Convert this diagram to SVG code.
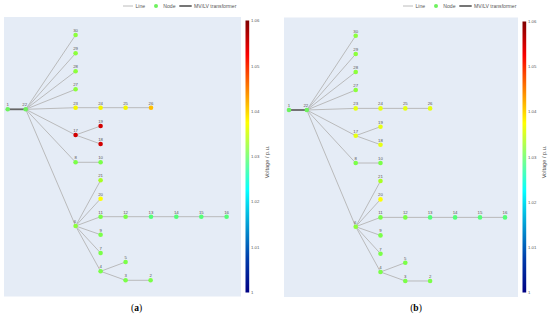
<svg xmlns="http://www.w3.org/2000/svg" width="550" height="318" viewBox="0 0 550 318">
<defs>
<linearGradient id="jet" x1="0" y1="0" x2="0" y2="1">
<stop offset="0" stop-color="#800000"/>
<stop offset="0.125" stop-color="#fa0000"/>
<stop offset="0.375" stop-color="#ffff00"/>
<stop offset="0.625" stop-color="#05ffff"/>
<stop offset="0.875" stop-color="#003caa"/>
<stop offset="1" stop-color="#000083"/>
</linearGradient>
</defs>
<style>
.bg{fill:#e5ecf6}
.ln{stroke:#b4b4b4;stroke-width:0.9;fill:none}
.tr{stroke:#666;stroke-width:1.8;fill:none}
.nd{stroke:none}
.lb{font-family:"Liberation Sans",Arial,sans-serif;font-size:4.3px;fill:#555;text-anchor:middle}
.tk{font-family:"Liberation Sans",Arial,sans-serif;font-size:4.3px;fill:#555}
.lg{font-family:"Liberation Sans",Arial,sans-serif;font-size:5.1px;fill:#555}
.ax{font-family:"Liberation Sans",Arial,sans-serif;font-size:5.6px;fill:#555;text-anchor:middle}
.cap{font-family:"Liberation Serif","Times New Roman",serif;font-size:9.5px;fill:#000;text-anchor:middle}
.cb{font-weight:bold}
.g1{fill:#6ef25e}.lm{fill:#8cff3c}.lm2{fill:#7aff48}.cg{fill:#55ff78}.ye{fill:#f5f500}.ye2{fill:#ffff00}.or{fill:#ffbe00}.rd{fill:#d20000}.yl{fill:#e6ff12}.yg{fill:#a8ff22}
</style>
<rect width="550" height="318" fill="#ffffff"/>
<!-- legends -->
<g id="legend-a">
<line x1="123" y1="6" x2="133" y2="6" class="ln"/>
<text x="135.5" y="7.8" class="lg">Line</text>
<circle cx="156" cy="6" r="2" fill="#6ef25e"/>
<text x="163.3" y="7.8" class="lg">Node</text>
<line x1="179.3" y1="6" x2="191.7" y2="6" class="tr" stroke-width="1.2"/>
<text x="194" y="7.8" class="lg">MV/LV transformer</text>
</g>
<g id="legend-b">
<line x1="403" y1="6" x2="413" y2="6" class="ln"/>
<text x="415.5" y="7.8" class="lg">Line</text>
<circle cx="436" cy="6" r="2" fill="#6ef25e"/>
<text x="443.3" y="7.8" class="lg">Node</text>
<line x1="459.3" y1="6" x2="471.7" y2="6" class="tr" stroke-width="1.2"/>
<text x="474" y="7.8" class="lg">MV/LV transformer</text>
</g>
<!-- panel backgrounds -->
<rect class="bg" x="4" y="17" width="237" height="279.5"/>
<rect class="bg" x="284" y="17.5" width="234" height="279.5"/>
<!-- colorbars -->
<g id="colorbar-a">
<rect x="245.5" y="20.5" width="3.7" height="272" fill="url(#jet)"/>
<text x="251" y="22.2" class="tk">1.06</text>
<text x="251" y="67.5" class="tk">1.05</text>
<text x="251" y="112.8" class="tk">1.04</text>
<text x="251" y="158.1" class="tk">1.03</text>
<text x="251" y="203.4" class="tk">1.02</text>
<text x="251" y="248.7" class="tk">1.01</text>
<text x="251" y="294" class="tk">1</text>
<text transform="translate(268.5,162) rotate(-90)" class="ax">Voltage / p.u.</text>
</g>
<g id="colorbar-b">
<rect x="522.5" y="21.5" width="3.7" height="271" fill="url(#jet)"/>
<text x="528" y="23" class="tk">1.06</text>
<text x="528" y="68.2" class="tk">1.05</text>
<text x="528" y="113.4" class="tk">1.04</text>
<text x="528" y="158.6" class="tk">1.03</text>
<text x="528" y="203.8" class="tk">1.02</text>
<text x="528" y="249" class="tk">1.01</text>
<text x="528" y="294" class="tk">1</text>
<text transform="translate(545.5,162) rotate(-90)" class="ax">Voltage / p.u.</text>
</g>
<!-- panel a connectors -->
<g id="connectors-a">
<line class="tr" x1="7.7" y1="109.3" x2="25.7" y2="109.3"/>
<path class="ln" d="M25.7 109.3L75.6 35M25.7 109.3L75.6 53.3M25.7 109.3L75.6 71.3M25.7 109.3L75.6 89.3M25.7 109.3L75.6 107.7M25.7 109.3L75.6 135M25.7 109.3L75.6 162.3M25.7 109.3L75.6 226"/>
<path class="ln" d="M75.6 107.7H151M75.6 135L100.6 126M75.6 135L100.6 144M75.6 162.3H100.6"/>
<path class="ln" d="M75.6 226L100.6 180.3M75.6 226L100.6 198.7M75.6 226L100.6 216.7M75.6 226L100.6 234.7M75.6 226L100.6 253M75.6 226L100.6 271.3"/>
<path class="ln" d="M100.6 216.7H226.6M100.6 271.3L125.6 262M100.6 271.3L125.6 280.3H150.6"/>
</g>
<!-- panel a nodes -->
<g id="a-n1"><circle class="nd g1" cx="7.7" cy="109.3" r="2.3"/><text class="lb" x="7.7" y="106.3">1</text></g>
<g id="a-n22"><circle class="nd g1" cx="25.7" cy="109.3" r="2.3"/><text class="lb" x="24.7" y="106.3">22</text></g>
<g id="a-n30"><circle class="nd lm" cx="75.6" cy="35" r="2.3"/><text class="lb" x="75.6" y="32">30</text></g>
<g id="a-n29"><circle class="nd lm" cx="75.6" cy="53.3" r="2.3"/><text class="lb" x="75.6" y="50.3">29</text></g>
<g id="a-n28"><circle class="nd lm" cx="75.6" cy="71.3" r="2.3"/><text class="lb" x="75.6" y="68.3">28</text></g>
<g id="a-n27"><circle class="nd lm" cx="75.6" cy="89.3" r="2.3"/><text class="lb" x="75.6" y="86.3">27</text></g>
<g id="a-n23"><circle class="nd ye" cx="75.6" cy="107.7" r="2.3"/><text class="lb" x="75.6" y="104.7">23</text></g>
<g id="a-n24"><circle class="nd ye" cx="100.6" cy="107.7" r="2.3"/><text class="lb" x="100.6" y="104.7">24</text></g>
<g id="a-n25"><circle class="nd ye" cx="125.6" cy="107.7" r="2.3"/><text class="lb" x="125.6" y="104.7">25</text></g>
<g id="a-n26"><circle class="nd or" cx="151" cy="107.7" r="2.3"/><text class="lb" x="151" y="104.7">26</text></g>
<g id="a-n17"><circle class="nd rd" cx="75.6" cy="135" r="2.3"/><text class="lb" x="75.6" y="132">17</text></g>
<g id="a-n19"><circle class="nd rd" cx="100.6" cy="126" r="2.3"/><text class="lb" x="100.6" y="123">19</text></g>
<g id="a-n18"><circle class="nd rd" cx="100.6" cy="144" r="2.3"/><text class="lb" x="100.6" y="141">18</text></g>
<g id="a-n8"><circle class="nd lm2" cx="75.6" cy="162.3" r="2.3"/><text class="lb" x="75.6" y="159.3">8</text></g>
<g id="a-n10"><circle class="nd lm2" cx="100.6" cy="162.3" r="2.3"/><text class="lb" x="100.6" y="159.3">10</text></g>
<g id="a-n21"><circle class="nd yg" cx="100.6" cy="180.3" r="2.3"/><text class="lb" x="100.6" y="177.3">21</text></g>
<g id="a-n20"><circle class="nd ye2" cx="100.6" cy="198.7" r="2.3"/><text class="lb" x="100.6" y="195.7">20</text></g>
<g id="a-n11"><circle class="nd lm2" cx="100.6" cy="216.7" r="2.3"/><text class="lb" x="100.6" y="213.7">11</text></g>
<g id="a-n12"><circle class="nd lm2" cx="125.6" cy="216.7" r="2.3"/><text class="lb" x="125.6" y="213.7">12</text></g>
<g id="a-n13"><circle class="nd cg" cx="151" cy="216.7" r="2.3"/><text class="lb" x="151" y="213.7">13</text></g>
<g id="a-n14"><circle class="nd cg" cx="176.3" cy="216.7" r="2.3"/><text class="lb" x="176.3" y="213.7">14</text></g>
<g id="a-n15"><circle class="nd cg" cx="201.3" cy="216.7" r="2.3"/><text class="lb" x="201.3" y="213.7">15</text></g>
<g id="a-n16"><circle class="nd cg" cx="226.6" cy="216.7" r="2.3"/><text class="lb" x="226.6" y="213.7">16</text></g>
<g id="a-n6"><circle class="nd lm" cx="75.6" cy="226" r="2.3"/><text class="lb" x="75" y="223">6</text></g>
<g id="a-n9"><circle class="nd lm2" cx="100.6" cy="234.7" r="2.3"/><text class="lb" x="100.6" y="231.7">9</text></g>
<g id="a-n7"><circle class="nd lm2" cx="100.6" cy="253" r="2.3"/><text class="lb" x="100.6" y="250">7</text></g>
<g id="a-n4"><circle class="nd lm2" cx="100.6" cy="271.3" r="2.3"/><text class="lb" x="100.6" y="268.3">4</text></g>
<g id="a-n5"><circle class="nd lm2" cx="125.6" cy="262" r="2.3"/><text class="lb" x="125.6" y="259">5</text></g>
<g id="a-n3"><circle class="nd lm2" cx="125.6" cy="280.3" r="2.3"/><text class="lb" x="125.6" y="277.3">3</text></g>
<g id="a-n2"><circle class="nd lm2" cx="150.6" cy="280.3" r="2.3"/><text class="lb" x="150.6" y="277.3">2</text></g>
<!-- panel b -->
<g transform="translate(280.5,0.7)">
<g id="connectors-b">
<line class="tr" x1="8.5" y1="109.3" x2="26.3" y2="109.3"/>
<path class="ln" d="M26.3 109.3L75.2 35M26.3 109.3L75.2 53.3M26.3 109.3L75.2 71.3M26.3 109.3L75.2 89.3M26.3 109.3L75.2 107.7M26.3 109.3L75.2 135M26.3 109.3L75.2 162.3M26.3 109.3L75.2 226"/>
<path class="ln" d="M75.2 107.7H149.6M75.2 135L100 126M75.2 135L100 144M75.2 162.3H100"/>
<path class="ln" d="M75.2 226L100 180.3M75.2 226L100 198.7M75.2 226L100 216.7M75.2 226L100 234.7M75.2 226L100 253M75.2 226L100 271.3"/>
<path class="ln" d="M100 216.7H224.5M100 271.3L124.8 262M100 271.3L124.8 280.3H149.6"/>
</g>
<g id="b-n1"><circle class="nd g1" cx="8.5" cy="109.3" r="2.3"/><text class="lb" x="8.5" y="106.3">1</text></g>
<g id="b-n22"><circle class="nd g1" cx="26.3" cy="109.3" r="2.3"/><text class="lb" x="25.3" y="106.3">22</text></g>
<g id="b-n30"><circle class="nd lm" cx="75.2" cy="35" r="2.3"/><text class="lb" x="75.2" y="32">30</text></g>
<g id="b-n29"><circle class="nd lm" cx="75.2" cy="53.3" r="2.3"/><text class="lb" x="75.2" y="50.3">29</text></g>
<g id="b-n28"><circle class="nd lm" cx="75.2" cy="71.3" r="2.3"/><text class="lb" x="75.2" y="68.3">28</text></g>
<g id="b-n27"><circle class="nd lm" cx="75.2" cy="89.3" r="2.3"/><text class="lb" x="75.2" y="86.3">27</text></g>
<g id="b-n23"><circle class="nd yl" cx="75.2" cy="107.7" r="2.3"/><text class="lb" x="75.2" y="104.7">23</text></g>
<g id="b-n24"><circle class="nd yl" cx="100" cy="107.7" r="2.3"/><text class="lb" x="100" y="104.7">24</text></g>
<g id="b-n25"><circle class="nd yl" cx="124.8" cy="107.7" r="2.3"/><text class="lb" x="124.8" y="104.7">25</text></g>
<g id="b-n26"><circle class="nd yl" cx="149.6" cy="107.7" r="2.3"/><text class="lb" x="149.6" y="104.7">26</text></g>
<g id="b-n17"><circle class="nd yl" cx="75.2" cy="135" r="2.3"/><text class="lb" x="75.2" y="132">17</text></g>
<g id="b-n19"><circle class="nd yl" cx="100" cy="126" r="2.3"/><text class="lb" x="100" y="123">19</text></g>
<g id="b-n18"><circle class="nd yl" cx="100" cy="144" r="2.3"/><text class="lb" x="100" y="141">18</text></g>
<g id="b-n8"><circle class="nd lm2" cx="75.2" cy="162.3" r="2.3"/><text class="lb" x="75.2" y="159.3">8</text></g>
<g id="b-n10"><circle class="nd lm2" cx="100" cy="162.3" r="2.3"/><text class="lb" x="100" y="159.3">10</text></g>
<g id="b-n21"><circle class="nd yg" cx="100" cy="180.3" r="2.3"/><text class="lb" x="100" y="177.3">21</text></g>
<g id="b-n20"><circle class="nd ye2" cx="100" cy="198.7" r="2.3"/><text class="lb" x="100" y="195.7">20</text></g>
<g id="b-n11"><circle class="nd lm2" cx="100" cy="216.7" r="2.3"/><text class="lb" x="100" y="213.7">11</text></g>
<g id="b-n12"><circle class="nd lm2" cx="124.8" cy="216.7" r="2.3"/><text class="lb" x="124.8" y="213.7">12</text></g>
<g id="b-n13"><circle class="nd cg" cx="149.6" cy="216.7" r="2.3"/><text class="lb" x="149.6" y="213.7">13</text></g>
<g id="b-n14"><circle class="nd cg" cx="174.6" cy="216.7" r="2.3"/><text class="lb" x="174.6" y="213.7">14</text></g>
<g id="b-n15"><circle class="nd cg" cx="199.5" cy="216.7" r="2.3"/><text class="lb" x="199.5" y="213.7">15</text></g>
<g id="b-n16"><circle class="nd cg" cx="224.5" cy="216.7" r="2.3"/><text class="lb" x="224.5" y="213.7">16</text></g>
<g id="b-n6"><circle class="nd lm" cx="75.2" cy="226" r="2.3"/><text class="lb" x="74.6" y="223">6</text></g>
<g id="b-n9"><circle class="nd lm2" cx="100" cy="234.7" r="2.3"/><text class="lb" x="100" y="231.7">9</text></g>
<g id="b-n7"><circle class="nd lm2" cx="100" cy="253" r="2.3"/><text class="lb" x="100" y="250">7</text></g>
<g id="b-n4"><circle class="nd lm2" cx="100" cy="271.3" r="2.3"/><text class="lb" x="100" y="268.3">4</text></g>
<g id="b-n5"><circle class="nd lm2" cx="124.8" cy="262" r="2.3"/><text class="lb" x="124.8" y="259">5</text></g>
<g id="b-n3"><circle class="nd lm2" cx="124.8" cy="280.3" r="2.3"/><text class="lb" x="124.8" y="277.3">3</text></g>
<g id="b-n2"><circle class="nd lm2" cx="149.6" cy="280.3" r="2.3"/><text class="lb" x="149.6" y="277.3">2</text></g>
</g>
<!-- captions -->
<text class="cap" x="136.5" y="311">(<tspan class="cb">a</tspan>)</text>
<text class="cap" x="416" y="311">(<tspan class="cb">b</tspan>)</text>
</svg>
